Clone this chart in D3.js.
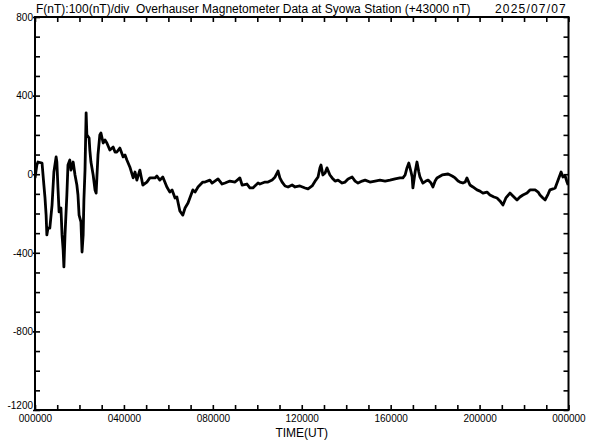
<!DOCTYPE html>
<html>
<head>
<meta charset="utf-8">
<script src="https://cdn.jsdelivr.net/npm/d3@7"></script>
<style>
  html, body { margin: 0; padding: 0; background: #fff; }
  svg { display: block; }
  text { font-family: "Liberation Sans", Arial, sans-serif; fill: #000; }
</style>
</head>
<body>
<svg id="chart" width="592" height="440"></svg>
<script>
// ---- data ----
const titleText = "F(nT):100(nT)/div  Overhauser Magnetometer Data at Syowa Station (+43000 nT)";
const dateText = "2025/07/07";
const xTickLabels = ["000000", "040000", "080000", "120000", "160000", "200000", "000000"];
const xTickHours = [0, 4, 8, 12, 16, 20, 24];
const yTickValues = [800, 400, 0, -400, -800, -1200];
const xAxisTitle = "TIME(UT)";

// time in minutes after 00:00 UT
const timeMin = [0,5,8,19,24,27,30,32,35,40,46,51,57,59,62,65,70,73,76,78,81,86,89,94,97,100,103,108,113,116,119,124,127,130,132,135,138,140,146,148,151,157,162,165,167,170,175,178,184,189,194,202,211,216,221,229,238,243,248,256,265,270,275,283,291,302,310,324,329,337,345,356,364,370,378,383,391,399,405,413,418,426,432,440,453,459,472,478,494,505,513,526,540,553,559,572,580,588,602,607,621,629,640,648,656,661,667,675,683,694,702,715,729,737,748,758,764,769,772,777,783,788,796,802,810,818,829,837,845,856,864,872,883,891,904,918,931,945,958,972,985,993,999,1004,1009,1015,1018,1020,1026,1031,1036,1039,1047,1055,1061,1069,1074,1080,1085,1099,1115,1126,1134,1142,1147,1155,1161,1166,1174,1182,1193,1201,1209,1220,1228,1239,1247,1255,1263,1271,1282,1290,1301,1309,1317,1328,1336,1350,1358,1363,1371,1377,1385,1390,1398,1404,1412,1420,1425,1431,1436,1439];
// F - 43000 nT
const deltaF = [-19,47,62,57,-55,-121,-208,-309,-274,-274,-157,11,88,62,-70,-192,-172,-309,-386,-472,-309,-106,47,72,21,37,62,-4,-55,-106,-208,-243,-396,-309,-131,21,312,200,184,123,62,-4,-80,-96,-19,98,200,210,159,174,159,123,138,113,113,133,88,98,72,37,-19,11,-30,21,-55,-40,-19,-19,-9,-30,-14,-65,-91,-80,-121,-116,-187,-208,-172,-147,-121,-80,-91,-65,-40,-40,-30,-45,-24,-50,-45,-35,-40,-19,-55,-50,-70,-70,-45,-50,-40,-40,-30,-14,16,-19,-40,-60,-65,-55,-65,-60,-70,-75,-60,-30,-14,32,47,-4,6,32,-4,-19,-35,-30,-45,-40,-24,-14,-35,-45,-35,-30,-40,-35,-30,-35,-30,-24,-19,-19,-4,32,57,11,-14,-70,11,62,11,-14,-45,-35,-30,-45,-65,-35,-19,-4,1,-9,-19,-35,-40,-45,-40,-19,-55,-65,-80,-86,-96,-91,-106,-116,-121,-136,-157,-121,-96,-111,-131,-116,-106,-96,-80,-80,-91,-106,-121,-131,-101,-80,-75,-70,-30,11,-14,-9,-40,-55];

// ---- layout ----
const svg = d3.select("#chart");
const L = 35, R = 568.5, T = 17, B = 410;
const FONT = "'Liberation Sans', Arial, sans-serif";

const x = d3.scaleLinear().domain([0, 1440]).range([L, R]);
const y = d3.scaleLinear().domain([-1200, 800]).range([B, T]);

// data line (clipped to frame)
svg.append("clipPath").attr("id", "clip")
  .append("rect").attr("x", L).attr("y", T).attr("width", R - L).attr("height", B - T);

const pts = timeMin.map((t, i) => [t, deltaF[i]]);
const line = d3.line().x(d => x(d[0])).y(d => y(d[1])).curve(d3.curveLinear);
svg.append("path")
  .datum(pts)
  .attr("clip-path", "url(#clip)")
  .attr("d", line)
  .attr("fill", "none")
  .attr("stroke", "#000")
  .attr("stroke-width", 2.8)
  .attr("stroke-linejoin", "round");

// axes: minor ticks inward on all sides
const hourTicks = d3.range(0, 1441, 60);
const nTTicks = d3.range(-1200, 801, 100);

const bottomAx = d3.axisTop(x).tickValues(hourTicks).tickSize(5).tickFormat("");
const topAx = d3.axisBottom(x).tickValues(hourTicks).tickSize(5).tickFormat("");
const leftAx = d3.axisRight(y).tickValues(nTTicks).tickSize(5).tickFormat("");
const rightAx = d3.axisLeft(y).tickValues(nTTicks).tickSize(5).tickFormat("");

function styleAx(g) {
  g.select(".domain").remove();
  g.selectAll(".tick line").attr("stroke", "#000").attr("stroke-width", 1.6);
}
svg.append("g").attr("transform", `translate(0,${B})`).call(bottomAx).call(styleAx);
svg.append("g").attr("transform", `translate(0,${T})`).call(topAx).call(styleAx);
svg.append("g").attr("transform", `translate(${L},0)`).call(leftAx).call(styleAx);
svg.append("g").attr("transform", `translate(${R},0)`).call(rightAx).call(styleAx);

// labelled y axis (outer short ticks + labels)
const yLab = d3.axisLeft(y).tickValues(yTickValues).tickSize(2).tickPadding(0)
  .tickFormat(d => d < 0 ? "-" + Math.abs(d) : String(d));
svg.append("g").attr("transform", `translate(${L},0)`).call(yLab)
  .call(g => g.select(".domain").remove())
  .call(g => g.selectAll(".tick line").attr("stroke", "#000").attr("stroke-width", 1.6))
  .call(g => g.selectAll("text").attr("font-size", 10).attr("font-family", FONT).attr("fill", "#000")
    .attr("dy", d => d === -1200 ? "-0.2em" : "0.32em"));

// labelled x axis
const xLab = d3.axisBottom(x).tickValues(xTickHours.map(h => h * 60)).tickSize(0).tickPadding(5)
  .tickFormat((d, i) => xTickLabels[i]);
svg.append("g").attr("transform", `translate(0,${B})`).call(xLab)
  .call(g => g.select(".domain").remove())
  .call(g => g.selectAll("text").attr("font-size", 10).attr("font-family", FONT).attr("fill", "#000"));

// frame
svg.append("rect")
  .attr("x", L).attr("y", T).attr("width", R - L).attr("height", B - T)
  .attr("fill", "none").attr("stroke", "#000").attr("stroke-width", 2);

// texts
svg.append("text").attr("x", L + 1).attr("y", 13).attr("font-size", 12)
  .style("white-space", "pre").attr("xml:space", "preserve").text(titleText);
svg.append("text").attr("x", 567).attr("y", 13).attr("font-size", 12)
  .attr("letter-spacing", 1.2).attr("text-anchor", "end").text(dateText);
svg.append("text").attr("x", (L + R) / 2).attr("y", 437).attr("font-size", 12)
  .attr("text-anchor", "middle").text(xAxisTitle);
</script>
</body>
</html>
